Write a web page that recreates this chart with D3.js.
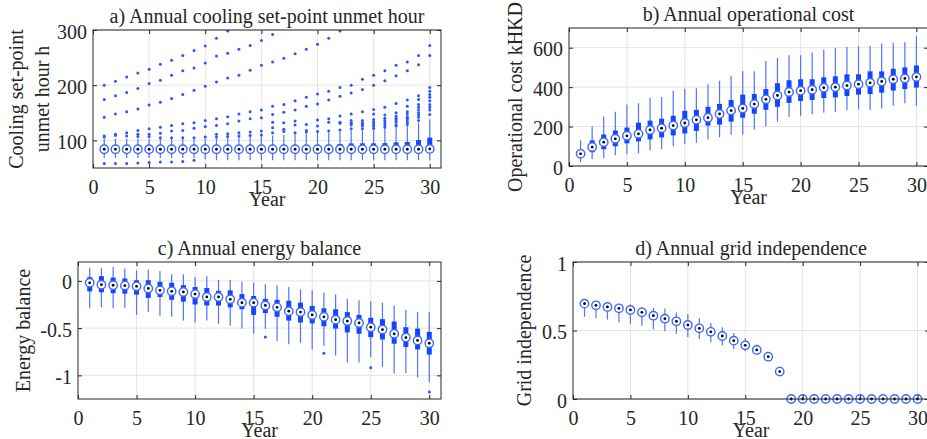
<!DOCTYPE html>
<html>
<head>
<meta charset="utf-8">
<script src="https://cdn.jsdelivr.net/npm/d3@7"></script>
<style>
  body { margin: 0; background: #fff; }
  svg { display: block; font-family: "Liberation Serif", "Times New Roman", serif; }
</style>
</head>
<body>
<svg id="fig" width="927" height="439"></svg>
<script>
"use strict";

const years = d3.range(1, 31);
const xTicks = [0, 5, 10, 15, 20, 25, 30];

// a) cooling set-point unmet hour (h)
const aMed = [84, 84, 84, 84, 84, 84, 84, 84, 84, 84, 84, 84, 84, 84, 84,
              84, 84, 84, 84, 84, 84, 84, 84, 84, 84, 84, 84, 84, 84, 84.5];
const aQ1 = [81, 81, 81, 81, 81, 81, 81, 81, 81, 81, 81, 81, 81, 81, 81,
             81, 81, 81, 81, 81, 81, 81, 81, 81, 81, 81, 81, 81, 81, 81];
const aQ3 = [88, 88, 88, 88, 88, 88, 88, 88, 88, 88, 89, 89, 89, 89, 90,
             90, 90, 91, 91, 91.7, 92, 93.5, 94.5, 94.6, 94.6, 95, 96.4, 97, 100.6, 105];
const aWLo = [68, 68, 68, 68, 68, 68, 68, 68, 68, 66, 64, 64, 64, 64, 64,
              64, 64, 64, 64, 64, 64, 64, 64, 64, 64, 64, 64, 64, 64, 64];
const aWHi = [103, 103, 103, 103, 103, 103, 103, 103, 103, 103, 104, 105, 106, 107, 108,
              109, 110, 111, 112, 113, 114, 116, 118, 118, 120, 122, 124, 127, 132, 138];
const aOut = [
  [200, 174, 142, 108, 106, 58],
  [207, 181, 148, 111, 109, 58],
  [215, 187, 152, 114, 108, 58],
  [222, 194, 157, 118, 111, 107, 59],
  [229, 203, 164, 121, 111, 107, 60],
  [238, 209, 169, 124, 113, 105, 61],
  [245, 218, 176, 127, 117, 105, 61],
  [254, 226, 183, 130, 118, 105, 62],
  [263, 231, 191, 132, 122, 105, 64],
  [271, 240, 198, 136, 125, 106],
  [285, 253, 206, 139, 127, 111, 106],
  [298, 258, 213, 143, 130, 112, 107],
  [265, 218, 148, 135, 114, 108],
  [272, 227, 152, 139, 115, 109],
  [281, 236, 155, 141, 117, 110],
  [292, 242, 162, 147, 133, 123, 114],
  [249, 165, 151, 132, 120, 116],
  [257, 172, 155, 135, 128, 114],
  [265, 178, 162, 129, 118, 115],
  [274, 184, 166, 137, 126, 116],
  [285, 189, 173, 139, 133, 117],
  [298, 196, 180, 144, 133, 131, 119],
  [200, 186, 148, 136, 132, 130, 128, 121],
  [211, 192, 152, 136, 132, 129, 126, 121],
  [218, 200, 156, 148, 138, 134, 130, 126, 122],
  [226, 208, 160, 146, 140, 136, 132, 128, 124],
  [236, 217, 167, 150, 144, 140, 137, 133, 128, 126],
  [242, 226, 173, 162, 152, 148, 143, 140, 137, 133, 129],
  [254, 237, 181, 174, 165, 160, 155, 150, 146, 142, 136],
  [272, 254, 196, 189, 183, 178, 172, 165, 160, 155, 147]
];
const aYTicks = [100, 200, 300];

// b) operational cost (kHKD)
const bMed = [62, 96, 121, 138, 153, 163, 183, 192, 205, 218, 234, 245, 264, 281, 292,
              314, 338, 358, 375, 382, 387, 397, 400, 408, 415, 422, 429, 440, 444, 452];
const bQ1 = [50, 70, 85, 100, 115, 125, 135, 145, 155, 165, 178, 205, 210, 225, 245,
             265, 285, 300, 320, 330, 335, 345, 348, 355, 362, 365, 372, 383, 390, 398];
const bQ3 = [72, 130, 160, 180, 195, 220, 230, 240, 255, 280, 285, 300, 315, 335, 362,
             365, 390, 420, 435, 440, 440, 450, 455, 465, 465, 480, 480, 493, 500, 510];
const bWLo = [20, 35, 40, 55, 60, 65, 80, 85, 100, 112, 118, 135, 145, 158, 160,
              185, 200, 225, 250, 255, 262, 270, 275, 283, 288, 285, 292, 305, 318, 305];
const bWHi = [130, 200, 250, 275, 312, 318, 345, 350, 382, 392, 395, 415, 432, 458, 480,
              480, 532, 548, 562, 562, 575, 590, 600, 603, 607, 610, 622, 625, 628, 658];
const bYTicks = [0, 200, 400, 600];

// c) energy balance
const cMed = [-0.02, -0.04, -0.046, -0.05, -0.057, -0.08, -0.10, -0.11, -0.117, -0.14,
              -0.17, -0.17, -0.195, -0.23, -0.23, -0.26, -0.28, -0.32, -0.33, -0.36,
              -0.38, -0.41, -0.425, -0.445, -0.49, -0.515, -0.56, -0.60, -0.63, -0.66];
const cQ1 = [-0.11, -0.12, -0.13, -0.135, -0.145, -0.18, -0.17, -0.20, -0.22, -0.25,
             -0.26, -0.26, -0.28, -0.30, -0.36, -0.34, -0.38, -0.42, -0.44, -0.45,
             -0.48, -0.505, -0.545, -0.56, -0.595, -0.62, -0.665, -0.70, -0.725, -0.78];
const cQ3 = [0.04, 0.05, 0.035, 0.025, 0.007, 0.007, -0.01, -0.02, -0.045, -0.065,
             -0.075, -0.105, -0.10, -0.14, -0.16, -0.19, -0.20, -0.21, -0.23, -0.265,
             -0.29, -0.30, -0.33, -0.36, -0.39, -0.405, -0.43, -0.49, -0.505, -0.54];
const cWLo = [-0.29, -0.28, -0.29, -0.285, -0.36, -0.33, -0.37, -0.38, -0.42, -0.44,
              -0.42, -0.455, -0.475, -0.505, -0.56, -0.51, -0.64, -0.67, -0.655, -0.725,
              -0.69, -0.79, -0.865, -0.865, -0.805, -0.91, -0.98, -0.975, -1.02, -1.07];
const cWHi = [0.14, 0.14, 0.15, 0.13, 0.11, 0.12, 0.105, 0.07, 0.07, 0.04,
              0.05, 0.01, 0.01, -0.01, -0.02, -0.035, -0.045, -0.065, -0.09, -0.10,
              -0.125, -0.145, -0.19, -0.205, -0.215, -0.23, -0.26, -0.305, -0.33, -0.33];
const cOut = [[], [], [], [], [], [], [], [], [], [], [], [], [], [], [],
              [-0.595], [], [], [], [], [-0.765], [], [], [], [-0.92], [], [], [], [], [-1.175]];
const cYTicks = [-1, -0.5, 0];

// d) grid independence
const dMed = [0.696, 0.684, 0.672, 0.662, 0.650, 0.633, 0.608, 0.586, 0.567, 0.540,
              0.516, 0.490, 0.460, 0.426, 0.392, 0.358, 0.309, 0.200, 0, 0,
              0, 0, 0, 0, 0, 0, 0, 0, 0, 0];
const dQ1 = [0.68, 0.67, 0.655, 0.645, 0.63, 0.615, 0.59, 0.57, 0.55, 0.52,
             0.50, 0.47, 0.445, 0.41, 0.375, 0.345, 0.30, 0.20, 0, 0,
             0, 0, 0, 0, 0, 0, 0, 0, 0, 0];
const dQ3 = [0.71, 0.70, 0.685, 0.675, 0.665, 0.65, 0.625, 0.605, 0.585, 0.56,
             0.535, 0.51, 0.48, 0.44, 0.41, 0.37, 0.32, 0.20, 0, 0,
             0, 0, 0, 0, 0, 0, 0, 0, 0, 0];
const dWLo = [0.600, 0.590, 0.580, 0.560, 0.547, 0.535, 0.510, 0.494, 0.477, 0.452,
              0.438, 0.414, 0.392, 0.365, 0.348, 0.324, 0.287, 0.200, 0, 0,
              0, 0, 0, 0, 0, 0, 0, 0, 0, 0];
const dWHi = [0.725, 0.713, 0.700, 0.693, 0.690, 0.670, 0.664, 0.660, 0.632, 0.620,
              0.590, 0.555, 0.523, 0.482, 0.445, 0.397, 0.343, 0.200, 0, 0,
              0, 0, 0, 0, 0, 0, 0, 0, 0, 0];
const dYTicks = [0, 0.5, 1];

const INK = "#262626";
const BOX = "#1446ff";
const WHISK = "#4f74ff";
const RING = "#3a68ff";

const svg = d3.select("#fig");

function rows(med, q1, q3, lo, hi, out) {
  return years.map((yr, i) => ({
    yr, med: med[i], q1: q1[i], q3: q3[i], lo: lo[i], hi: hi[i],
    out: out ? out[i] : []
  }));
}

const panels = [
  { key: "a", title: "a) Annual cooling set-point unmet hour",
    ylab: [["Cooling set-point", 23], ["unmet hour h", 49]],
    x0: 93, x1: 441, y0: 30, y1: 168, yDom: [50, 300], yTicks: aYTicks,
    data: rows(aMed, aQ1, aQ3, aWLo, aWHi, aOut) },
  { key: "b", title: "b) Annual operational cost",
    ylab: [["Operational cost kHKD", 522]],
    x0: 569, x1: 928, y0: 28, y1: 166, yDom: [0, 700], yTicks: bYTicks,
    data: rows(bMed, bQ1, bQ3, bWLo, bWHi, null) },
  { key: "c", title: "c) Annual energy balance",
    ylab: [["Energy balance", 30]],
    x0: 78, x1: 441, y0: 262, y1: 399, yDom: [-1.25, 0.2], yTicks: cYTicks,
    data: rows(cMed, cQ1, cQ3, cWLo, cWHi, cOut) },
  { key: "d", title: "d) Annual grid independence",
    ylab: [["Grid independence", 531]],
    x0: 573, x1: 929, y0: 262, y1: 399, yDom: [0, 1], yTicks: dYTicks,
    data: rows(dMed, dQ1, dQ3, dWLo, dWHi, null) }
];

function styleAxis(sel, labels) {
  sel.attr("font-family", null).attr("font-size", 20);
  sel.select(".domain").remove();
  sel.selectAll(".tick line").attr("stroke", INK);
  sel.selectAll(".tick text").attr("fill", INK);
  if (!labels) sel.selectAll(".tick text").remove();
}

panels.forEach((p) => {
  const g = svg.append("g").attr("class", "panel-" + p.key);
  const x = d3.scaleLinear().domain([0, 31]).range([p.x0, p.x1]);
  const y = d3.scaleLinear().domain(p.yDom).range([p.y1, p.y0]);
  const w = p.x1 - p.x0, h = p.y1 - p.y0;

  g.append("clipPath").attr("id", "clip-" + p.key)
    .append("rect").attr("x", p.x0).attr("y", p.y0).attr("width", w).attr("height", h);

  // Grid lines at the major ticks.
  const grid = g.append("g").attr("stroke", "#e4e4e4").attr("stroke-width", 1);
  grid.selectAll("line.gx").data(xTicks.filter((t) => t > 0)).join("line")
    .attr("x1", (d) => x(d)).attr("x2", (d) => x(d))
    .attr("y1", p.y0).attr("y2", p.y1);
  grid.selectAll("line.gy").data(p.yTicks).join("line")
    .attr("x1", p.x0).attr("x2", p.x1)
    .attr("y1", (d) => y(d)).attr("y2", (d) => y(d));

  const plot = g.append("g").attr("clip-path", `url(#clip-${p.key})`);

  // Whiskers.
  plot.selectAll("line.whisk").data(p.data).join("line")
    .attr("class", "whisk")
    .attr("x1", (d) => x(d.yr)).attr("x2", (d) => x(d.yr))
    .attr("y1", (d) => y(d.lo)).attr("y2", (d) => y(d.hi))
    .attr("stroke", WHISK).attr("stroke-width", 1.2);

  // Interquartile boxes (compact style: a thick bar).
  plot.selectAll("rect.iqr").data(p.data).join("rect")
    .attr("class", "iqr")
    .attr("x", (d) => x(d.yr) - 2.5).attr("width", 5)
    .attr("y", (d) => y(d.q3))
    .attr("height", (d) => Math.max(0, y(d.q1) - y(d.q3)))
    .attr("fill", BOX);

  // Outliers.
  const outs = p.data.flatMap((d) => d.out.map((v) => ({ yr: d.yr, v })));
  plot.selectAll("circle.out").data(outs).join("circle")
    .attr("class", "out")
    .attr("cx", (d) => x(d.yr)).attr("cy", (d) => y(d.v))
    .attr("r", 1.5).attr("fill", "#2b56ff");

  // Medians: ringed circle with a dot, drawn unclipped.
  const med = g.append("g");
  med.selectAll("circle.ring").data(p.data).join("circle")
    .attr("class", "ring")
    .attr("cx", (d) => x(d.yr)).attr("cy", (d) => y(d.med))
    .attr("r", 4.2).attr("fill", "#fff")
    .attr("stroke", RING).attr("stroke-width", 1.4);
  med.selectAll("circle.dot").data(p.data).join("circle")
    .attr("class", "dot")
    .attr("cx", (d) => x(d.yr)).attr("cy", (d) => y(d.med))
    .attr("r", 1.4).attr("fill", "#000");

  // Axes with inward ticks on all four sides.
  const ax = g.append("g");
  ax.append("g").attr("transform", `translate(0,${p.y1})`)
    .call(d3.axisBottom(x).tickValues(xTicks).tickSize(-4).tickPadding(11.5))
    .call((s) => styleAxis(s, true));
  ax.append("g").attr("transform", `translate(0,${p.y0})`)
    .call(d3.axisTop(x).tickValues(xTicks).tickSize(-4))
    .call((s) => styleAxis(s, false));
  ax.append("g").attr("transform", `translate(${p.x0},0)`)
    .call(d3.axisLeft(y).tickValues(p.yTicks).tickSize(-4).tickPadding(6)
      .tickFormat((d) => String(d)))
    .call((s) => { styleAxis(s, true); s.selectAll(".tick text").attr("dy", "0.4em"); });
  ax.append("g").attr("transform", `translate(${p.x1},0)`)
    .call(d3.axisRight(y).tickValues(p.yTicks).tickSize(-4))
    .call((s) => styleAxis(s, false));

  g.append("rect")
    .attr("x", p.x0).attr("y", p.y0).attr("width", w).attr("height", h)
    .attr("fill", "none").attr("stroke", INK).attr("stroke-width", 1);

  // Labels.
  const cx = (p.x0 + p.x1) / 2, cy = (p.y0 + p.y1) / 2;
  g.append("text").attr("x", cx).attr("y", p.y0 - 7.5)
    .attr("text-anchor", "middle").attr("font-size", 20).attr("fill", INK)
    .text(p.title);
  g.append("text").attr("x", cx).attr("y", p.y1 + 38)
    .attr("text-anchor", "middle").attr("font-size", 20).attr("fill", INK)
    .text("Year");
  p.ylab.forEach(([txt, bx]) => {
    g.append("text")
      .attr("transform", `translate(${bx},${cy}) rotate(-90)`)
      .attr("text-anchor", "middle").attr("font-size", 20).attr("fill", INK)
      .text(txt);
  });
});
</script>
</body>
</html>
